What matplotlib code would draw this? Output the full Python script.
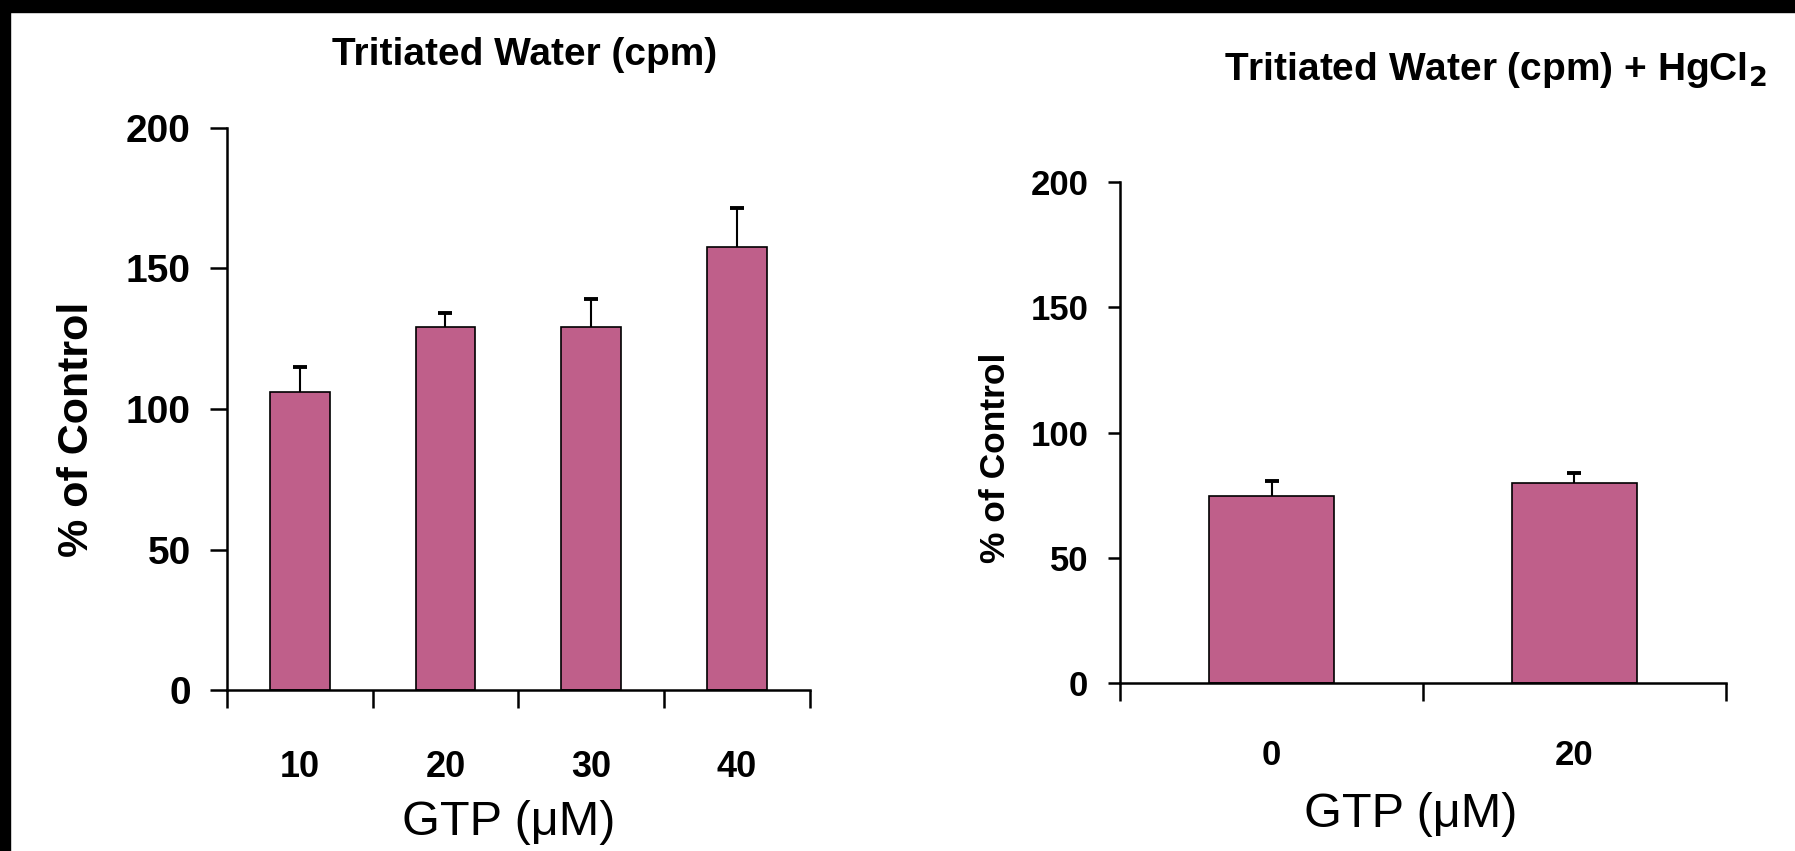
import numpy as np
import matplotlib.pyplot as plt
from matplotlib.patches import Rectangle

plt.rcParams['font.family'] = ['Liberation Sans', 'DejaVu Sans']

# Données
gtp_a = ['10', '20', '30', '40']
pct_a = [106, 129, 129, 157.5]
err_a = [9, 5, 10, 14]

gtp_b = ['0', '20']
pct_b = [74.5, 80]
err_b = [6, 4]

bar_color = '#BF5F8A'

fig = plt.figure(figsize=(17.95, 8.51), dpi=100)

# cadre noir en haut et à gauche (bord du scan)
fig.patches.append(Rectangle((0, 1 - 12 / 851), 1, 12 / 851, transform=fig.transFigure,
                             color='black', zorder=0))
fig.patches.append(Rectangle((0, 0), 10 / 1795, 1, transform=fig.transFigure,
                             color='black', zorder=0))

ax1 = fig.add_axes([0.1265, 0.189, 0.3245, 0.661])
ax2 = fig.add_axes([0.624, 0.1974, 0.3375, 0.5887])


def draw_panel(ax, labels, vals, errs, ytick_size, xtick_size, ylab_size, tick_len,
               xpad, ylab_pos, xlab_pos):
    x = np.arange(len(labels))
    ax.bar(x, vals, width=0.41, color=bar_color, edgecolor='black', linewidth=1.2, zorder=2)
    # barres d'erreur vers le haut seulement
    tops = np.array(vals) + np.array(errs)
    ax.vlines(x, vals, tops, color='black', linewidth=1.5, zorder=3)
    ax.plot(x, tops, ls='none', marker='_', markersize=10, markeredgewidth=2.8,
            color='black', zorder=3)
    ax.set_xlim(-0.5, len(labels) - 0.5)
    ax.set_ylim(0, 200)
    ax.set_yticks([0, 50, 100, 150, 200])
    for s in ['top', 'right']:
        ax.spines[s].set_visible(False)
    for s in ['left', 'bottom']:
        ax.spines[s].set_linewidth(1.8)
    # ticks aux limites des catégories, étiquettes au centre
    ax.set_xticks(np.arange(len(labels) + 1) - 0.5)
    ax.set_xticklabels([])
    ax.set_xticks(x, minor=True)
    ax.set_xticklabels(labels, minor=True, fontsize=xtick_size, fontweight='bold')
    ax.tick_params(axis='x', which='major', direction='out', length=13, width=1.8)
    ax.tick_params(axis='x', which='minor', length=0, pad=xpad)
    ax.tick_params(axis='y', direction='out', length=tick_len, width=1.8, pad=14)
    for t in ax.get_yticklabels():
        t.set_fontsize(ytick_size)
        t.set_fontweight('bold')
    ax.set_xlabel('GTP (\u03bcM)', fontsize=35, va='center')
    ax.xaxis.set_label_coords(*xlab_pos)
    ax.set_ylabel('% of Control', fontsize=ylab_size, fontweight='bold', va='center')
    ax.yaxis.set_label_coords(*ylab_pos)


draw_panel(ax1, gtp_a, pct_a, err_a, 28, 26, 31, 12, 43, (-0.258, 0.463), (0.484, -0.236))
draw_panel(ax2, gtp_b, pct_b, err_b, 25, 25, 25.5, 9, 40, (-0.205, 0.45), (0.479, -0.263))

fig.text(0.2925, 0.935, 'Tritiated Water (cpm)', fontsize=28, fontweight='bold',
         ha='center', va='center')
fig.text(0.833, 0.918, 'Tritiated Water (cpm) + HgCl$_\\mathbf{2}$', fontsize=28,
         fontweight='bold', ha='center', va='center')

plt.savefig('out.png', dpi=100)
